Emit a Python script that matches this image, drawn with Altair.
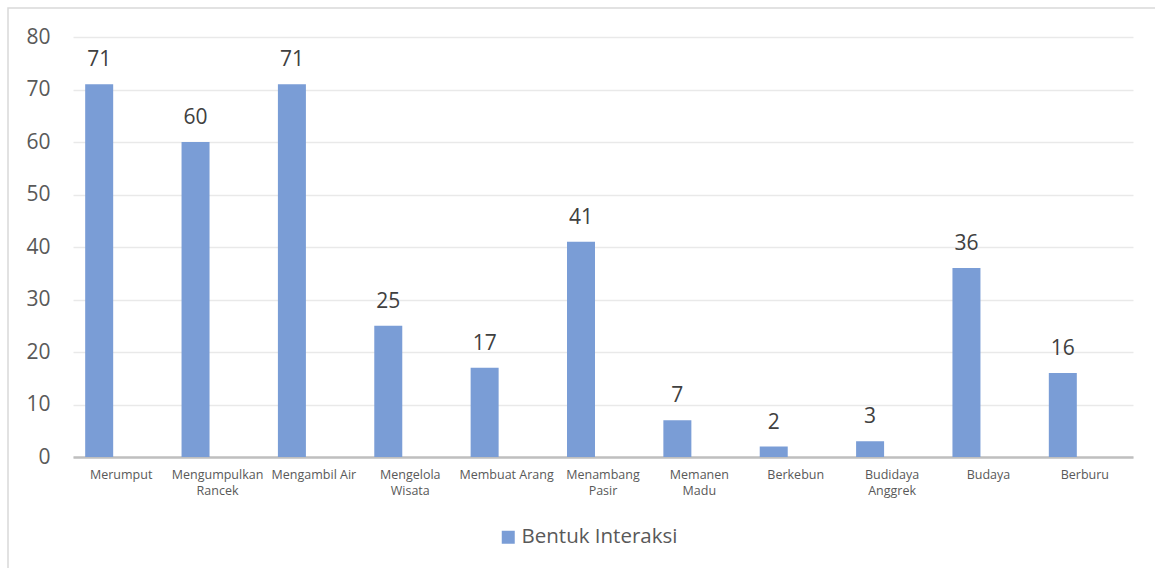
import altair as alt
import pandas as pd

categories = ["Merumput", "Mengumpulkan Rancek", "Mengambil Air", "Mengelola Wisata",
              "Membuat Arang", "Menambang Pasir", "Memanen Madu", "Berkebun",
              "Budidaya Anggrek", "Budaya", "Berburu"]
values = [71, 60, 71, 25, 17, 41, 7, 2, 3, 36, 16]
series_name = "Bentuk Interaksi"
wrapped = ["Mengumpulkan Rancek", "Mengelola Wisata", "Menambang Pasir",
           "Memanen Madu", "Budidaya Anggrek"]
y_ticks = [0, 10, 20, 30, 40, 50, 60, 70, 80]

df = pd.DataFrame({"cat": categories, "val": values, "series": [series_name] * len(values)})

FONT = "Open Sans"
BAR = "#7A9DD6"

wrap_list = "[" + ",".join("'" + w + "'" for w in wrapped) + "]"
label_expr = f"indexof({wrap_list}, datum.value) >= 0 ? split(datum.value, ' ') : datum.value"

x_enc = alt.X("cat:N", sort=categories, title=None,
              scale=alt.Scale(paddingInner=0, paddingOuter=0),
              axis=alt.Axis(labelAngle=0, labelFont=FONT, labelFontSize=12.5,
                            labelColor="#595959", labelLineHeight=16, labelPadding=11,
                            labelBaseline="top", ticks=False, domainColor="#BFBFBF",
                            domainWidth=2.5, labelExpr=label_expr, grid=False))
y_enc = alt.Y("val:Q", title=None,
              scale=alt.Scale(domain=[0, 80], nice=False),
              axis=alt.Axis(values=y_ticks, labelFont=FONT, labelFontSize=21,
                            labelColor="#595959", labelPadding=23, ticks=False,
                            domain=False, gridColor="#E9E9E9", gridWidth=1.5))

bars = alt.Chart(df).mark_bar(width=28, xOffset=-22).encode(
    x=x_enc, y=y_enc,
    color=alt.Color("series:N", scale=alt.Scale(range=[BAR]),
                    legend=alt.Legend(title=None, orient="none", legendX=425, legendY=490,
                                      symbolType="square", symbolSize=169,
                                      symbolStrokeWidth=0, labelFont=FONT,
                                      labelFontSize=20.5, labelColor="#595959",
                                      labelOffset=3)),
)

labels = alt.Chart(df).mark_text(dx=-22, dy=-18, baseline="alphabetic", font=FONT,
                                 fontSize=21, color="#404040").encode(
    x=alt.X("cat:N", sort=categories), y=alt.Y("val:Q"),
    text="val:Q")

border = alt.Chart(df.head(1)).mark_rect(fill=None, stroke="#D9D9D9", strokeWidth=1.5,
                                          clip=False).encode(
    x=alt.value(-65), x2=alt.value(1110), y=alt.value(-29), y2=alt.value(650))

chart = alt.layer(border, bars, labels).properties(
    width=1060, height=420,
    background="white",
    autosize=alt.AutoSizeParams(type="none"),
    padding={"left": 73, "top": 37, "right": 22, "bottom": 111},
).configure_view(stroke=None, strokeWidth=0).configure_axisX(grid=False)

chart.save("out.html", embed_options={"renderer": "svg", "actions": False})
